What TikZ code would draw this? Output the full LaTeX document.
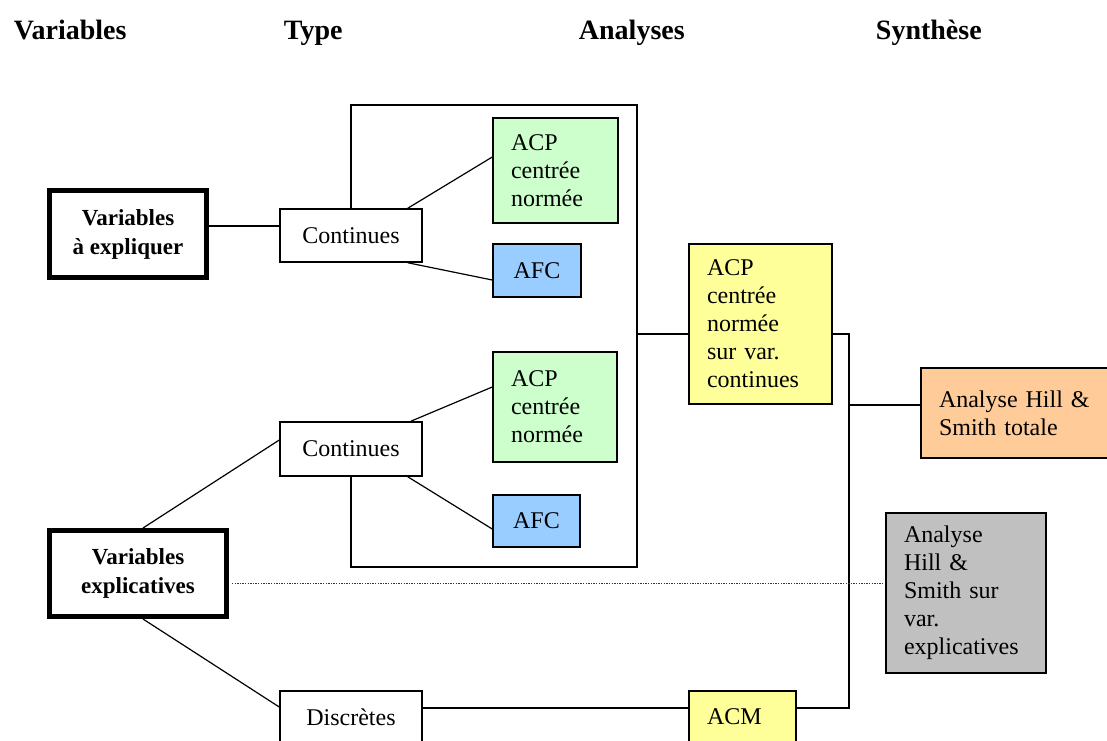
\documentclass[tikz,border=0pt]{standalone}
\usepackage{fontspec}
\setmainfont{Liberation Serif}
\usetikzlibrary{positioning,calc}

\definecolor{acpgreen}{HTML}{CCFFCC}
\definecolor{afcblue}{HTML}{99CCFF}
\definecolor{acpyellow}{HTML}{FFFF99}
\definecolor{hsorange}{HTML}{FFCC99}
\definecolor{hsgray}{HTML}{C0C0C0}

\begin{document}
\begin{tikzpicture}[
    x=1pt, y=-1pt,
    line width=1.2pt,
    head/.style   ={anchor=base west,font=\fontsize{28}{30}\selectfont\bfseries},
    box/.style    ={draw,line width=1.5pt,inner sep=0pt,align=center,
                    font=\fontsize{24}{28}\selectfont},
    leftbox/.style={box,inner xsep=18pt,align=left},
    varbox/.style ={box,line width=5pt,font=\fontsize{23}{29}\selectfont\bfseries},
    typebox/.style={box,fill=white,minimum width=142pt},
    dotline/.style={line width=1pt,black!80,dash pattern=on 1.4pt off 1.2pt}
]
\path[fill=white,use as bounding box] (0,0) rectangle (1107,740);
\clip (0,0) rectangle (1107,740);

% column titles
\node[head] (hvar) at (10,39)  {Variables};
\node[head] (htyp) at (280,39) {Type};
\node[head] (hana) at (575,39) {Analyses};
\node[head] (hsyn) at (872,39) {Synthèse};

% variables
\node[varbox,minimum width=157pt,minimum height=87pt] (vexp)  at (128,234)   {Variables\\à expliquer};
\node[varbox,minimum width=177pt,minimum height=86pt] (vexpl) at (138,573.5) {Variables\\explicatives};

% types
\node[typebox,minimum height=53pt] (cont1) at (351,235.5) {Continues};
\node[typebox,minimum height=54pt] (cont2) at (351,449)   {Continues};
\node[typebox,minimum height=52pt] (disc)  at (351,717)   {Discrètes};

% analyses
\node[leftbox,fill=acpgreen,text width=89pt,minimum height=105pt] (acp1) at (555.5,170.5) {ACP\\centrée\\normée};
\node[box,fill=afcblue,minimum width=88pt,minimum height=53pt]    (afc1) at (537,270.5)   {AFC};
\node[leftbox,fill=acpgreen,text width=88pt,minimum height=110pt] (acp2) at (555,407)     {ACP\\centrée\\normée};
\node[box,fill=afcblue,minimum width=87pt,minimum height=52pt]    (afc2) at (536.5,521)   {AFC};
\node[leftbox,fill=acpyellow,text width=107pt,minimum height=160pt] (acpy) at (760.5,324) {ACP\\centrée\\normée\\sur var.\\continues};
\node[leftbox,fill=acpyellow,text width=71pt,minimum height=52pt]  (acm)  at (742.5,717) {ACM};

% synthese
\node[leftbox,fill=hsorange,text width=168pt,minimum height=90pt] (hst) at (1023,413) {Analyse Hill \&\\Smith totale};
\node[leftbox,fill=hsgray,text width=124pt,minimum height=160pt]  (hsv) at (966,593)  {Analyse\\Hill \&\\Smith sur\\var.\\explicatives};

% links
\draw ([yshift=8pt]vexp.east) -- ([yshift=8pt]vexp.east -| cont1.west);
\draw ([xshift=-15pt]cont1.north east) -- ([yshift=13.5pt]acp1.west);
\draw ([xshift=-15pt]cont1.south east) -- ([yshift=-9.5pt]afc1.west);
\draw ([xshift=-12pt]cont2.north east) -- ([yshift=20pt]acp2.west);
\draw ([xshift=-15pt]cont2.south east) -- ([yshift=-8pt]afc2.west);
\draw ([xshift=5pt]vexpl.north) -- ([yshift=9pt]cont2.west);
\draw ([xshift=5pt]vexpl.south) -- ([yshift=10pt]disc.west);

% bracket round the continuous analyses
\coordinate (brne) at (637,105);
\coordinate (brse) at (637,567);
\coordinate (acpyin) at ([yshift=-10pt]acpy.west);
\draw (cont1.north) |- (brne) -- (brse) -| (cont2.south);
\draw (brne |- acpyin) -- (acpyin);

% discrete branch and synthesis bus
\coordinate (discout) at ([yshift=9pt]disc.east);
\draw (discout) -- (discout -| acm.west);
\coordinate (bustop) at (849,334);
\coordinate (busbot) at (849,708);
\draw (bustop -| acpy.east) -- (bustop) -- (busbot) -- (busbot -| acm.east);
\coordinate (hstin) at ([yshift=8pt]hst.west);
\draw (hstin -| bustop) -- (hstin);

\coordinate (dotin) at ([yshift=-9.5pt]vexpl.east);
\draw[dotline] ([xshift=3pt]dotin) -- ([xshift=-3pt]dotin -| hsv.west);

\end{tikzpicture}
\end{document}
